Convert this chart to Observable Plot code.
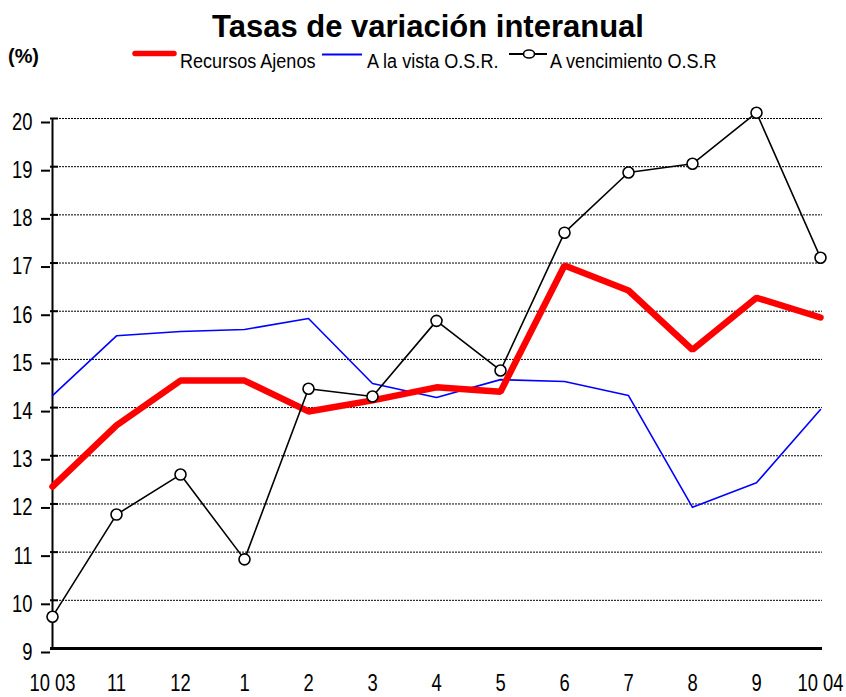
<!DOCTYPE html>
<html>
<head>
<meta charset="utf-8">
<script src="https://cdn.jsdelivr.net/npm/d3@7"></script>
<script src="https://cdn.jsdelivr.net/npm/@observablehq/plot@0.6"></script>
<style>
  html, body { margin: 0; padding: 0; background: #fff; }
  body { width: 846px; height: 697px; position: relative; overflow: hidden; font-family: "Liberation Sans", Arial, sans-serif; }
  #title { position: absolute; left: 428px; transform: translateX(-50%); top: 11px; line-height: 1; white-space: nowrap; font-weight: bold; font-size: 31px; color: #000; }
  #legend { position: absolute; left: 0; top: 0; }
  #chart { position: absolute; left: 0; top: 90px; }
</style>
</head>
<body>
<div id="title">Tasas de variación interanual</div>
<svg id="legend" width="846" height="90"></svg>
<div id="chart"></div>
<script>
const months = ["10 03", "11", "12", "1", "2", "3", "4", "5", "6", "7", "8", "9", "10 04"];
const recursosAjenos = [12.36, 13.63, 14.56, 14.56, 13.92, 14.15, 14.42, 14.33, 16.95, 16.43, 15.2, 16.28, 15.87];
const alaVista = [14.25, 15.49, 15.58, 15.62, 15.85, 14.5, 14.21, 14.58, 14.54, 14.25, 11.93, 12.44, 13.96];
const aVencimiento = [9.66, 11.78, 12.61, 10.85, 14.39, 14.23, 15.8, 14.77, 17.63, 18.88, 19.06, 20.12, 17.11];
const yTicks = [9, 10, 11, 12, 13, 14, 15, 16, 17, 18, 19, 20];
const seriesNames = ["Recursos Ajenos", "A la vista O.S.R.", "A vencimiento O.S.R"];
const seriesColors = ["#ff0000", "#0000ff", "#000000"];
const unitLabel = "(%)";

const toRows = (vals) => months.map((m, i) => ({month: m, value: vals[i]}));
const rowsR = toRows(recursosAjenos);
const rowsV = toRows(alaVista);
const rowsA = toRows(aVencimiento);
const gridTicks = yTicks.filter(t => t !== yTicks[0]);

const NARROW = 0.8;

const plot = Plot.plot({
  width: 846,
  height: 607,
  marginTop: 28,
  marginBottom: 49,
  marginLeft: 50,
  marginRight: 24,
  style: { fontFamily: '"Liberation Sans", Arial, sans-serif', fontSize: "23px", color: "#000", background: "transparent", overflow: "visible" },
  x: { type: "point", domain: months, padding: 0, label: null },
  y: { domain: [yTicks[0], yTicks[yTicks.length - 1]], label: null },
  marks: [
    Plot.ruleY(gridTicks, { stroke: "#000", strokeWidth: 1, strokeDasharray: "2,1" }),
    Plot.axisY({ ticks: yTicks, tickSize: 9, tickPadding: 9, dy: 4, tickFormat: d => String(d), fontSize: 23, stroke: "#000", strokeWidth: 2, strokeOpacity: 1 }),
    Plot.axisY({ ticks: yTicks, tickSize: -8, text: null, stroke: "#000", strokeWidth: 2, strokeOpacity: 1 }),
    Plot.axisX({ tickSize: 0, tickPadding: 26, fontSize: 23 }),
    Plot.ruleX([months[0]], { y1: yTicks[0], y2: yTicks[yTicks.length - 1], stroke: "#000", strokeWidth: 2 }),
    Plot.ruleY([yTicks[0]], { stroke: "#000", strokeWidth: 3 }),
    Plot.line(rowsV, { x: "month", y: "value", stroke: seriesColors[1], strokeWidth: 1.6 }),
    Plot.line(rowsR, { x: "month", y: "value", stroke: seriesColors[0], strokeWidth: 6.5, strokeLinejoin: "miter" }),
    Plot.line(rowsA, { x: "month", y: "value", stroke: seriesColors[2], strokeWidth: 1.6 }),
    Plot.dot(rowsA, { x: "month", y: "value", r: 5.5, fill: "#fff", stroke: "#000", strokeWidth: 1.6 })
  ]
});
document.getElementById("chart").appendChild(plot);

// Condense axis tick labels (emulating a narrow typeface)
d3.select(plot).selectAll('g[aria-label="y-axis tick label"] text, g[aria-label="x-axis tick label"] text').each(function() {
  const el = this;
  const x = +el.getAttribute("x") || 0;
  el.removeAttribute("x");
  const t = el.getAttribute("transform") || "";
  el.setAttribute("transform", `${t} translate(${x},0) scale(${NARROW},1)`);
});

// Legend + unit label
const lg = d3.select("#legend");
const txt = (x, y, s, size, weight, sx) => lg.append("text")
  .attr("transform", `translate(${x},${y}) scale(${sx},1)`)
  .attr("font-family", '"Liberation Sans", Arial, sans-serif')
  .attr("font-size", size).attr("font-weight", weight).attr("fill", "#000").text(s);

txt(8, 63, unitLabel, 21, "bold", 0.95);

// swatch 1
lg.append("line").attr("x1", 135).attr("x2", 174).attr("y1", 53.5).attr("y2", 53.5)
  .attr("stroke", seriesColors[0]).attr("stroke-width", 5.5).attr("stroke-linecap", "round");
txt(180, 68, seriesNames[0], 21, "normal", 0.86);
// swatch 2
lg.append("line").attr("x1", 322).attr("x2", 362).attr("y1", 54.5).attr("y2", 54.5)
  .attr("stroke", seriesColors[1]).attr("stroke-width", 2);
txt(367, 68, seriesNames[1], 21, "normal", 0.86);
// swatch 3
lg.append("line").attr("x1", 509).attr("x2", 547).attr("y1", 54).attr("y2", 54)
  .attr("stroke", seriesColors[2]).attr("stroke-width", 2);
lg.append("ellipse").attr("cx", 529).attr("cy", 54).attr("rx", 5.5).attr("ry", 4)
  .attr("fill", "#fff").attr("stroke", "#000").attr("stroke-width", 1.6);
txt(550, 68, seriesNames[2], 21, "normal", 0.86);
</script>
</body>
</html>
